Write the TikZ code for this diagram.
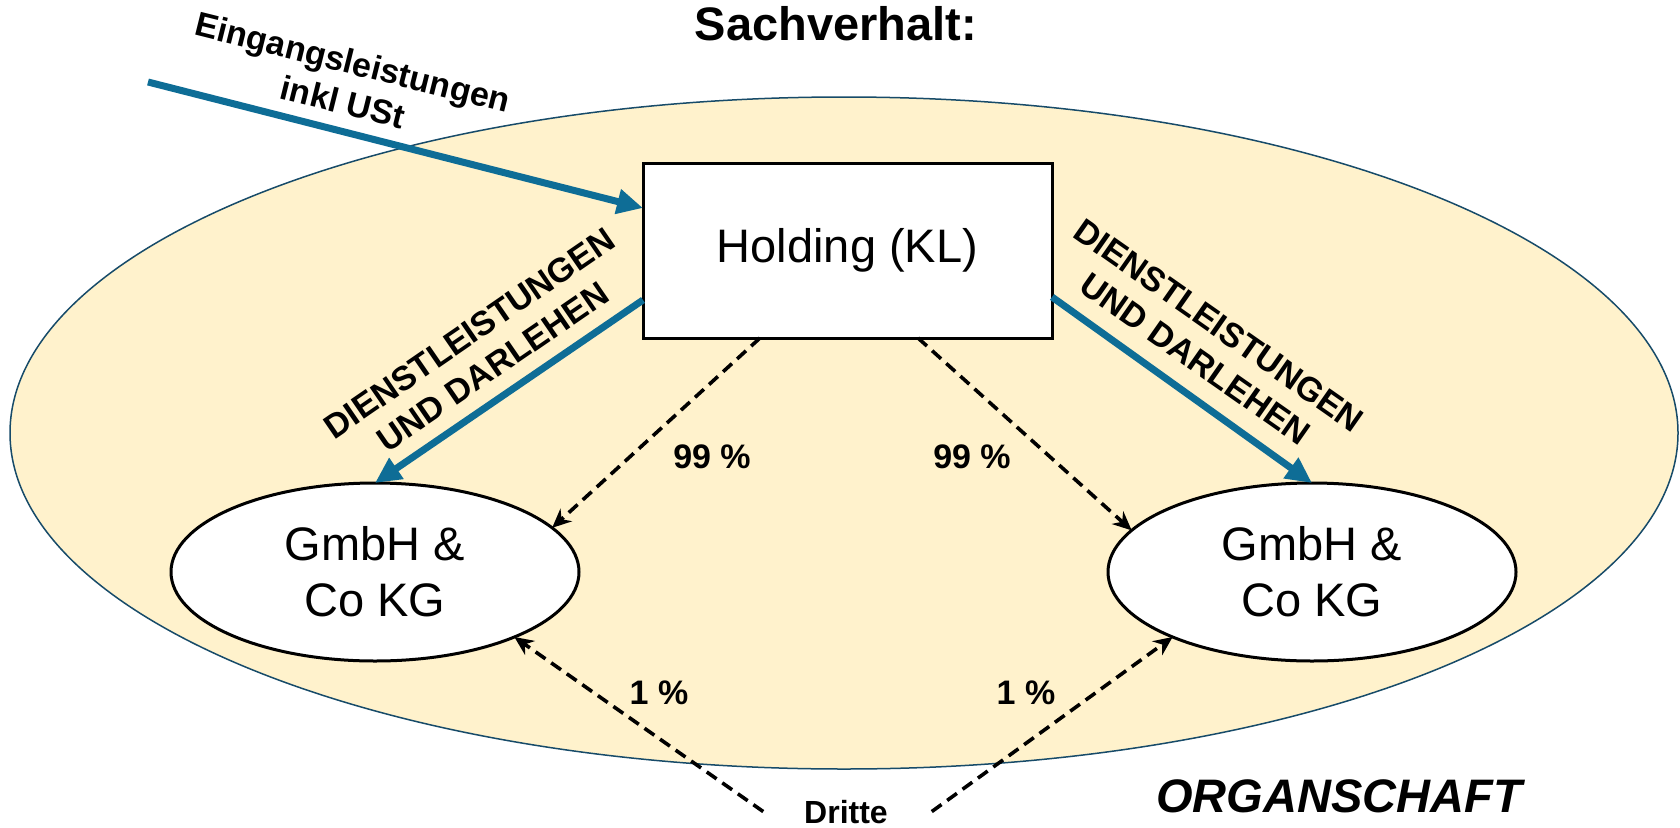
\documentclass[tikz,border=0pt]{standalone}
\usepackage{fontspec}
\setmainfont{Liberation Sans}
\usetikzlibrary{shapes.geometric,arrows.meta,calc}
\definecolor{orgfill}{RGB}{255,242,204}
\definecolor{orgline}{RGB}{23,75,105}
\definecolor{flowblue}{RGB}{14,109,150}
\newcommand\tkbig{\fontsize{47}{56}\selectfont}
\newcommand\tkrot{\fontsize{34}{41}\selectfont\bfseries}
\newcommand\tklab{\fontsize{34}{40}\selectfont\bfseries}
\begin{document}
\begin{tikzpicture}[x=1pt,y=-1pt,
  every node/.style={inner sep=0pt,outer sep=0pt},
  bluearrow/.style={draw=flowblue,line width=7pt,-{Triangle[length=26pt,width=24pt]}},
  dasharrow/.style={draw=black,line width=3.6pt,dash pattern=on 12pt off 7pt,-{Stealth[length=19pt,width=17pt]}},
  company/.style={ellipse,draw=black,fill=white,line width=3pt,minimum width=408pt,minimum height=178pt,align=center,font=\tkbig},
  rotlabel/.style={align=center,font=\tkrot},
  pct/.style={anchor=base,font=\tklab}]
\useasboundingbox (0,0) rectangle (1680,827);
\fill[white] (0,0) rectangle (1680,827);
\node[ellipse,draw=orgline,fill=orgfill,line width=1.5pt,minimum width=1668pt,minimum height=672pt] (org) at (844,433) {};
\node[anchor=base,font=\tkbig\bfseries] (title) at (836,40) {Sachverhalt:};
\node[draw=black,fill=white,line width=3pt,minimum width=409pt,minimum height=175pt,font=\tkbig] (holding) at (847.5,250.5) {Holding (KL)};
\node[company] (gl) at (375,572) {GmbH \&\\Co KG};
\node[company] (gr) at (1312,572) {GmbH \&\\Co KG};
\node[anchor=base,font=\fontsize{32}{38}\selectfont\bfseries] (dritte) at (846,823) {Dritte};
\node[anchor=base,font=\tkbig\bfseries\itshape] (organ) at (1339,812) {ORGANSCHAFT};
% arrows
\coordinate (ein) at (148,82);
\draw[bluearrow] (ein) -- ([yshift=42.5pt]holding.west);
\draw[bluearrow] ([yshift=-49.5pt]holding.west) -- (gl.north);
\draw[bluearrow] ([yshift=-46.5pt]holding.east) -- (gr.north);
\draw[dasharrow] ([xshift=-87.5pt]holding.south) -- (gl.14.6);
\draw[dasharrow] ([xshift=70.5pt]holding.south) -- (gr.167);
\draw[dasharrow] ([xshift=-41pt]dritte.west) -- (gl.-25);
\draw[dasharrow] ([xshift=44pt]dritte.east) -- (gr.205);
% labels
\node[rotlabel,rotate=-14] (einlab) at (348,82) {Eingangsleistungen\\inkl USt};
\node[rotlabel,rotate=34.5] (dl) at (481,350) {DIENSTLEISTUNGEN\\UND DARLEHEN};
\node[rotlabel,rotate=-35] (dr) at (1207,342) {DIENSTLEISTUNGEN\\UND DARLEHEN};
\node[pct] (p1) at (712,468) {99 \%};
\node[pct] (p2) at (972,468) {99 \%};
\node[pct] (p3) at (659,704) {1 \%};
\node[pct] (p4) at (1026,704) {1 \%};
\end{tikzpicture}
\end{document}
